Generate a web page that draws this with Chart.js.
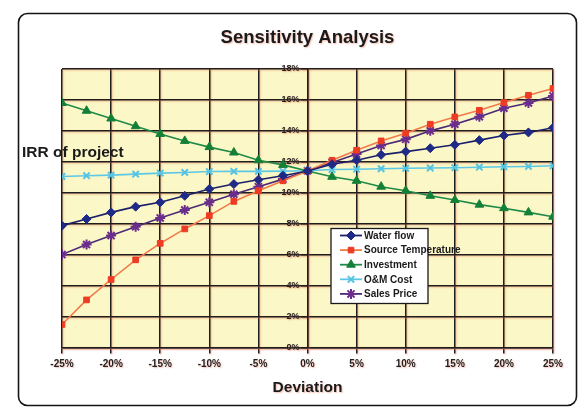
<!DOCTYPE html>
<html>
<head>
<meta charset="utf-8">
<script src="https://cdn.jsdelivr.net/npm/chart.js@4/dist/chart.umd.min.js"></script>
<style>
  html, body { margin: 0; padding: 0; background: #ffffff; }
  #wrap { width: 579px; height: 408px; }
</style>
</head>
<body>
<div id="wrap"><canvas id="chart" width="579" height="408"></canvas></div>
<script>
// Deviation of each input (percent) and the resulting IRR (percent)
const deviation = [-25, -22.5, -20, -17.5, -15, -12.5, -10, -7.5, -5, -2.5, 0,
                   2.5, 5, 7.5, 10, 12.5, 15, 17.5, 20, 22.5, 25];
const waterFlow   = [7.87, 8.30, 8.73, 9.10, 9.38, 9.80, 10.24, 10.56, 10.84, 11.10, 11.40,
                     11.84, 12.10, 12.45, 12.66, 12.88, 13.10, 13.40, 13.70, 13.90, 14.20];
const sourceTemp  = [1.48, 3.07, 4.39, 5.66, 6.73, 7.66, 8.52, 9.44, 10.13, 10.77, 11.40,
                     12.10, 12.75, 13.35, 13.85, 14.43, 14.90, 15.33, 15.83, 16.30, 16.74];
const investment  = [15.80, 15.30, 14.80, 14.30, 13.80, 13.35, 12.95, 12.60, 12.10, 11.80, 11.40,
                     11.03, 10.77, 10.39, 10.13, 9.80, 9.53, 9.23, 9.00, 8.73, 8.45];
const omCost      = [11.05, 11.10, 11.14, 11.20, 11.27, 11.31, 11.37, 11.38, 11.38, 11.40, 11.42,
                     11.50, 11.52, 11.55, 11.58, 11.60, 11.62, 11.65, 11.68, 11.70, 11.74];
const salesPrice  = [6.00, 6.65, 7.23, 7.80, 8.37, 8.88, 9.38, 9.90, 10.39, 10.88, 11.42,
                     11.95, 12.50, 13.06, 13.45, 14.00, 14.43, 14.92, 15.46, 15.80, 16.26];
const seriesNames = ['Water flow', 'Source Temperature', 'Investment', 'O&M Cost', 'Sales Price'];
const xTicks = [-25, -20, -15, -10, -5, 0, 5, 10, 15, 20, 25];
const yTicks = [0, 2, 4, 6, 8, 10, 12, 14, 16, 18];

const pairs = ys => deviation.map((x, i) => ({ x: x, y: ys[i] }));

function series(name, values, line, mark, style, radius) {
  return {
    label: name,
    data: pairs(values),
    borderColor: line,
    backgroundColor: mark,
    borderWidth: 1.6,
    pointStyle: style,
    pointRadius: radius,
    pointBorderColor: mark,
    pointBackgroundColor: mark,
    pointBorderWidth: (style === 'crossRot' || style === 'star') ? 2 : 1,
    tension: 0
  };
}

const datasets = [
  series(seriesNames[0], waterFlow,  '#1c1f6a', '#1f2a86', 'rectRot', 4.5),
  series(seriesNames[1], sourceTemp, '#f27a4a', '#ee3b24', 'rect', 4),
  series(seriesNames[2], investment, '#1d8a46', '#138038', 'triangle', 5),
  series(seriesNames[3], omCost,     '#5cc8e6', '#55c3e4', 'crossRot', 4.5),
  series(seriesNames[4], salesPrice, '#4c2a78', '#6b2d8c', 'star', 5)
];

// page frame, plot background, side title and the boxed legend
const decor = {
  id: 'decor',
  beforeDraw(chart) {
    const ctx = chart.ctx, a = chart.chartArea;
    ctx.save();
    ctx.fillStyle = '#ffffff';
    ctx.fillRect(0, 0, chart.width, chart.height);
    ctx.beginPath();
    ctx.roundRect(18.5, 13.5, 558, 392, 9);
    ctx.strokeStyle = '#151515';
    ctx.lineWidth = 1.6;
    ctx.stroke();
    ctx.fillStyle = '#fbf7c6';
    ctx.fillRect(a.left, a.top, a.right - a.left, a.bottom - a.top);
    ctx.restore();
    // soft warm fringe along the grid and axis text
    ctx.shadowColor = 'rgba(235, 110, 80, 0.45)';
    ctx.shadowOffsetX = 1;
    ctx.shadowOffsetY = 1;
    ctx.shadowBlur = 1.5;
  },
  beforeDatasetsDraw(chart) {
    const ctx = chart.ctx;
    ctx.shadowColor = 'rgba(0,0,0,0)';
    ctx.shadowOffsetX = 0;
    ctx.shadowOffsetY = 0;
    ctx.shadowBlur = 0;
  },
  afterDraw(chart) {
    const ctx = chart.ctx;
    ctx.save();
    ctx.fillStyle = '#1a1a1a';
    ctx.font = 'bold 15.5px "Liberation Sans", Arial, sans-serif';
    ctx.textBaseline = 'middle';
    ctx.textAlign = 'left';
    ctx.fillText('IRR of project', 22, 153);

    // legend box
    const lx = 331, ly = 228.5, lw = 97, lh = 75;
    ctx.fillStyle = '#ffffff';
    ctx.fillRect(lx, ly, lw, lh);
    ctx.strokeStyle = '#1a1a1a';
    ctx.lineWidth = 1.3;
    ctx.strokeRect(lx, ly, lw, lh);
    ctx.font = 'bold 10px "Liberation Sans", Arial, sans-serif';
    chart.data.datasets.forEach((ds, i) => {
      const y = 235.5 + i * 14.6;
      ctx.strokeStyle = ds.borderColor;
      ctx.lineWidth = 1.8;
      ctx.beginPath();
      ctx.moveTo(340, y);
      ctx.lineTo(362, y);
      ctx.stroke();
      ctx.fillStyle = ds.pointBackgroundColor;
      ctx.strokeStyle = ds.pointBorderColor;
      ctx.lineWidth = ds.pointBorderWidth;
      Chart.helpers.drawPoint(ctx, { pointStyle: ds.pointStyle, radius: ds.pointRadius, rotation: 0, borderWidth: ds.pointBorderWidth }, 351, y);
      ctx.fillStyle = '#1a1a1a';
      ctx.fillText(ds.label, 364, y + 0.5);
    });
    ctx.restore();
  }
};

const tickFont = { family: '"Liberation Sans", Arial, sans-serif', size: 9, weight: 'bold' };

new Chart(document.getElementById('chart'), {
  type: 'line',
  data: { datasets: datasets },
  options: {
    responsive: false,
    animation: false,
    devicePixelRatio: 1,
    layout: { padding: { left: 62, right: 26, top: 27, bottom: 11 } },
    plugins: {
      legend: { display: false },
      tooltip: { enabled: false },
      title: {
        display: true,
        text: 'Sensitivity Analysis',
        color: '#1a1a1a',
        font: { family: '"Liberation Sans", Arial, sans-serif', size: 18.5, weight: 'bold' },
        padding: { top: 0, bottom: 19.8 }
      }
    },
    scales: {
      x: {
        type: 'linear',
        min: -25, max: 25,
        afterBuildTicks: s => { s.ticks = xTicks.map(v => ({ value: v })); },
        grid: { color: '#1e1e1e', lineWidth: 1.5, tickLength: 6, tickColor: '#1e1e1e' },
        border: { color: '#1e1e1e', width: 1.5 },
        ticks: { color: '#222', font: { ...tickFont, size: 10, lineHeight: 1.3 }, padding: 4, maxRotation: 0,
                 callback: v => v + '%' },
        title: {
          display: true, text: 'Deviation', color: '#1a1a1a',
          font: { family: '"Liberation Sans", Arial, sans-serif', size: 15.5, weight: 'bold' },
          padding: { top: 4, bottom: 0 }
        }
      },
      y: {
        type: 'linear',
        position: 'center',
        min: 0, max: 18,
        afterBuildTicks: s => { s.ticks = yTicks.map(v => ({ value: v })); },
        grid: { color: '#1e1e1e', lineWidth: 1.5, tickLength: 6, tickColor: '#1e1e1e' },
        border: { color: '#1e1e1e', width: 1.5 },
        ticks: { color: '#222', font: tickFont, padding: 2, callback: v => v + '%' }
      }
    }
  },
  plugins: [decor]
});
</script>
</body>
</html>
